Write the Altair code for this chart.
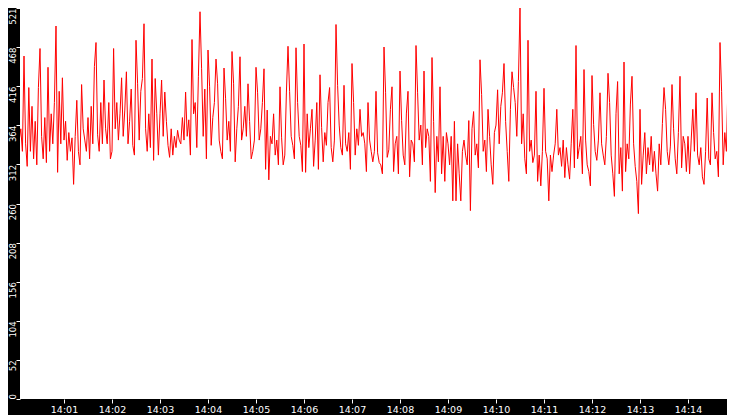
import altair as alt
import pandas as pd

# readings every 2 s, one list per minute (14:00 ... 14:14)
m00 = [275, 420, 345, 360, 330, 457, 340, 310, 415, 330, 390, 320, 370, 312, 415,
       467, 350, 320, 375, 315, 442, 330, 380, 340, 395, 497, 302, 410, 340, 428]
m01 = [345, 370, 318, 355, 330, 348, 286, 350, 398, 330, 312, 419, 360, 345, 330,
       375, 320, 390, 340, 443, 475, 352, 330, 395, 340, 425, 360, 340, 395, 320]
m02 = [330, 467, 360, 395, 345, 380, 428, 350, 385, 436, 340, 370, 413, 338, 325,
       478, 420, 345, 410, 427, 500, 360, 330, 380, 335, 453, 318, 427, 380, 325]
m03 = [380, 425, 350, 409, 370, 338, 322, 360, 325, 350, 335, 358, 345, 340, 375,
       345, 409, 350, 372, 325, 479, 380, 395, 335, 430, 516, 440, 350, 413, 320]
m04 = [465, 416, 338, 375, 395, 453, 420, 345, 330, 320, 441, 400, 345, 370, 330,
       463, 420, 316, 360, 390, 456, 345, 360, 390, 350, 420, 370, 320, 330, 345]
m05 = [442, 408, 345, 360, 395, 440, 306, 385, 292, 350, 340, 380, 325, 345, 312,
       416, 348, 312, 325, 409, 470, 410, 350, 338, 320, 468, 395, 350, 338, 303]
m06 = [473, 302, 380, 335, 360, 386, 310, 345, 395, 306, 432, 362, 316, 355, 338,
       395, 415, 335, 316, 345, 499, 418, 365, 335, 325, 418, 340, 330, 355, 306]
m07 = [447, 395, 325, 360, 338, 386, 350, 355, 340, 303, 395, 345, 330, 316, 330,
       410, 328, 315, 312, 300, 469, 408, 322, 332, 386, 416, 303, 340, 350, 300]
m08 = [437, 371, 325, 312, 381, 410, 296, 345, 340, 316, 471, 408, 345, 365, 312,
       437, 335, 360, 350, 290, 455, 370, 275, 350, 316, 416, 300, 350, 290, 355]
m09 = [340, 312, 350, 264, 370, 264, 340, 300, 264, 330, 345, 325, 312, 371, 251,
       360, 383, 325, 340, 308, 452, 406, 330, 345, 303, 386, 350, 312, 286, 355]
m10 = [365, 412, 340, 390, 408, 447, 370, 330, 290, 386, 436, 415, 395, 350, 423,
       521, 340, 380, 320, 300, 478, 330, 345, 315, 325, 410, 290, 325, 284, 330]
m11 = [414, 330, 320, 264, 325, 303, 325, 340, 386, 325, 335, 310, 345, 295, 335,
       312, 293, 340, 386, 308, 471, 320, 335, 350, 300, 439, 345, 312, 303, 284]
m12 = [431, 366, 330, 318, 345, 408, 340, 325, 312, 350, 434, 395, 325, 300, 270,
       380, 423, 300, 335, 277, 449, 303, 340, 320, 393, 430, 340, 310, 290, 247]
m13 = [386, 286, 325, 355, 300, 335, 312, 350, 303, 330, 300, 277, 340, 312, 367,
       415, 386, 330, 312, 337, 419, 360, 320, 300, 355, 430, 308, 350, 340, 303]
m14 = [350, 300, 345, 386, 330, 408, 325, 312, 335, 296, 286, 330, 401, 320, 312,
       408, 355, 320, 330, 296, 475, 410, 312, 355, 330, 424, 360, 330, 303, 290]

minutes = [m00, m01, m02, m03, m04, m05, m06, m07, m08, m09, m10, m11, m12, m13, m14]
y_ticks = [round(52.1 * k, 1) for k in range(11)]
x_ticks = [60 * k for k in range(1, 16)]

values = [v for m in minutes for v in m]
df = pd.DataFrame({"sec": [2 * i for i in range(len(values))], "value": values})

x_label = "'14:' + (datum.value / 60 < 10 ? '0' : '') + (datum.value / 60)"

# y labels hang below their tick, except 0 which sits above it
y_align = {
    "condition": {"test": "datum.value == 0", "value": "left"},
    "value": "right",
}

chart = (
    alt.Chart(df)
    .mark_line(color="#ff0000", strokeWidth=1, clip=True)
    .encode(
        x=alt.X(
            "sec:Q",
            scale=alt.Scale(domain=[5, 888.75], nice=False, zero=False),
            axis=alt.Axis(
                values=x_ticks,
                labelExpr=x_label,
                title=None,
                tickSize=4,
                labelPadding=1,
                labelFontSize=9.5,
                labelOverlap=False,
                labelBound=False,
                labelFlush=False,
            ),
        ),
        y=alt.Y(
            "value:Q",
            scale=alt.Scale(domain=[0, 521], nice=False),
            axis=alt.Axis(
                values=y_ticks,
                labelExpr="floor(datum.value)",
                title=None,
                tickSize=4,
                labelPadding=1,
                labelFontSize=8.5,
                labelAngle=270,
                labelBaseline="alphabetic",
                labelAlign=y_align,
                labelOverlap=False,
                labelFlush=False,
            ),
        ),
    )
    .properties(
        width=707,
        height=391,
        autosize="none",
        padding={"left": 12, "top": 0, "right": 0, "bottom": 16},
        background="black",
    )
    .configure_view(fill="white", strokeWidth=0)
    .configure_axis(
        labelColor="white",
        tickColor="white",
        domain=False,
        grid=False,
        labelFont="DejaVu Sans",
    )
)

chart.save("out.html", embed_options={"renderer": "svg", "actions": False})
